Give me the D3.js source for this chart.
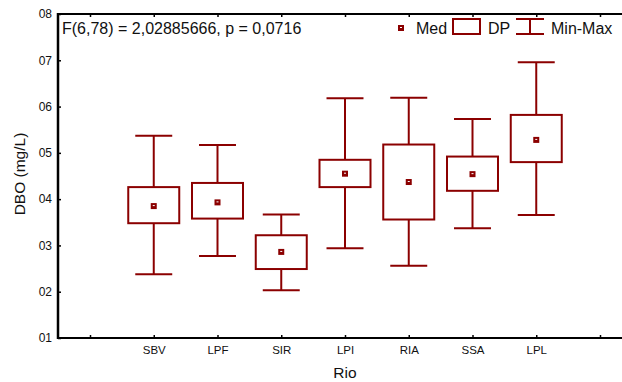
<!DOCTYPE html>
<html><head><meta charset="utf-8">
<script src="https://cdn.jsdelivr.net/npm/d3@7"></script>
<style>body{margin:0;background:#fff}svg{display:block}text{font-family:"Liberation Sans",Arial,Helvetica,sans-serif;fill:#111}</style>
</head><body><svg id="c" width="622" height="382"></svg>
<script>
const categories = ["SBV","LPF","SIR","LPI","RIA","SSA","LPL"];
const medians = [3.85,3.93,2.86,4.55,4.37,4.54,5.28];
const boxLow  = [3.48,3.58,2.49,4.26,3.56,4.18,4.80];
const boxHigh = [4.26,4.35,3.22,4.85,5.18,4.92,5.82];
const minVals = [2.38,2.77,2.03,2.94,2.56,3.37,3.66];
const maxVals = [5.37,5.17,3.67,6.18,6.19,5.73,6.96];
const yTicks = [1,2,3,4,5,6,7,8];
const statText = "F(6,78) = 2,02885666, p = 0,0716";

const col = "#8b0000";
const svg = d3.select("#c");
const L = 58, T = 14, B = 338, R = 622;
const slots = ["_a", ...categories, "_b"];
const x = d3.scalePoint().domain(slots).range([90, 600]);
const y = d3.scaleLinear().domain([1, 8]).range([B, T]);
const step = x.step();

// axes
const xb = svg.append("g").attr("transform", `translate(0,${B})`)
  .call(d3.axisBottom(x).tickSizeInner(-3).tickSizeOuter(0).tickPadding(8)
    .tickFormat(d => d.startsWith("_") ? "" : d));
xb.select(".domain").remove();
xb.selectAll("line").attr("stroke", "#000").attr("stroke-width", 1.5);
xb.selectAll("text").attr("font-size", 11.5).style("fill", "#111");

const xt = svg.append("g").attr("transform", `translate(0,${T})`)
  .call(d3.axisTop(x).tickSizeInner(-3).tickSizeOuter(0).tickFormat(""));
xt.select(".domain").remove();
xt.selectAll("line").attr("stroke", "#000").attr("stroke-width", 1.5);

const ya = svg.append("g").attr("transform", `translate(${L},0)`)
  .call(d3.axisLeft(y).tickValues(yTicks).tickSizeInner(-3).tickSizeOuter(0).tickPadding(6)
    .tickFormat(d => "0" + d));
ya.select(".domain").remove();
ya.selectAll("line").attr("stroke", "#000").attr("stroke-width", 1.5);
ya.selectAll("text").attr("font-size", 12).style("fill", "#111");

svg.append("line").attr("x1", L - 1).attr("x2", R).attr("y1", B).attr("y2", B).attr("stroke", "#000").attr("stroke-width", 2);
svg.append("line").attr("x1", L - 1).attr("x2", R).attr("y1", T).attr("y2", T).attr("stroke", "#000").attr("stroke-width", 2);
svg.append("line").attr("x1", L).attr("x2", L).attr("y1", T - 1).attr("y2", B + 1).attr("stroke", "#000").attr("stroke-width", 2.5);

// boxes
const boxW = step * 0.8, capW = step * 0.58;
const g = svg.append("g");
categories.forEach((c, i) => {
  const cx = x(c);
  const gg = g.append("g").attr("stroke", col).attr("stroke-width", 2).attr("fill", "none");
  gg.append("line").attr("x1", cx).attr("x2", cx).attr("y1", y(maxVals[i])).attr("y2", y(boxHigh[i]));
  gg.append("line").attr("x1", cx).attr("x2", cx).attr("y1", y(boxLow[i])).attr("y2", y(minVals[i]));
  gg.append("line").attr("x1", cx - capW/2).attr("x2", cx + capW/2).attr("y1", y(maxVals[i])).attr("y2", y(maxVals[i]));
  gg.append("line").attr("x1", cx - capW/2).attr("x2", cx + capW/2).attr("y1", y(minVals[i])).attr("y2", y(minVals[i]));
  gg.append("rect").attr("x", cx - boxW/2).attr("width", boxW)
    .attr("y", y(boxHigh[i])).attr("height", y(boxLow[i]) - y(boxHigh[i]));
  g.append("rect").attr("x", cx - 3).attr("y", y(medians[i]) - 3).attr("width", 6).attr("height", 6).attr("fill", col);
  g.append("rect").attr("x", cx - 1).attr("y", y(medians[i]) - 1).attr("width", 2).attr("height", 1).attr("fill", "#fff");
});

// stat text
svg.append("text").attr("x", 62).attr("y", 33.5).attr("font-size", 16).text(statText);

// legend
const lg = svg.append("g");
lg.append("rect").attr("x", 398).attr("y", 25).attr("width", 6).attr("height", 6).attr("fill", col);
lg.append("rect").attr("x", 400).attr("y", 27).attr("width", 2).attr("height", 1).attr("fill", "#fff");
lg.append("text").attr("x", 416).attr("y", 33.5).attr("font-size", 16).text("Med");
lg.append("rect").attr("x", 453).attr("y", 19).attr("width", 27).attr("height", 15).attr("fill", "none").attr("stroke", col).attr("stroke-width", 2);
lg.append("text").attr("x", 488).attr("y", 33.5).attr("font-size", 16).text("DP");
const wl = lg.append("g").attr("stroke", col).attr("stroke-width", 2);
wl.append("line").attr("x1", 516).attr("x2", 544).attr("y1", 19).attr("y2", 19);
wl.append("line").attr("x1", 516).attr("x2", 544).attr("y1", 34).attr("y2", 34);
wl.append("line").attr("x1", 530).attr("x2", 530).attr("y1", 19).attr("y2", 34);
lg.append("text").attr("x", 551).attr("y", 33.5).attr("font-size", 16).text("Min-Max");

// axis titles
svg.append("text").attr("transform", "translate(25,174) rotate(-90)").attr("text-anchor", "middle").attr("font-size", 15.5).text("DBO (mg/L)");
svg.append("text").attr("x", 345).attr("y", 378).attr("text-anchor", "middle").attr("font-size", 15.5).text("Rio");
</script></body></html>
